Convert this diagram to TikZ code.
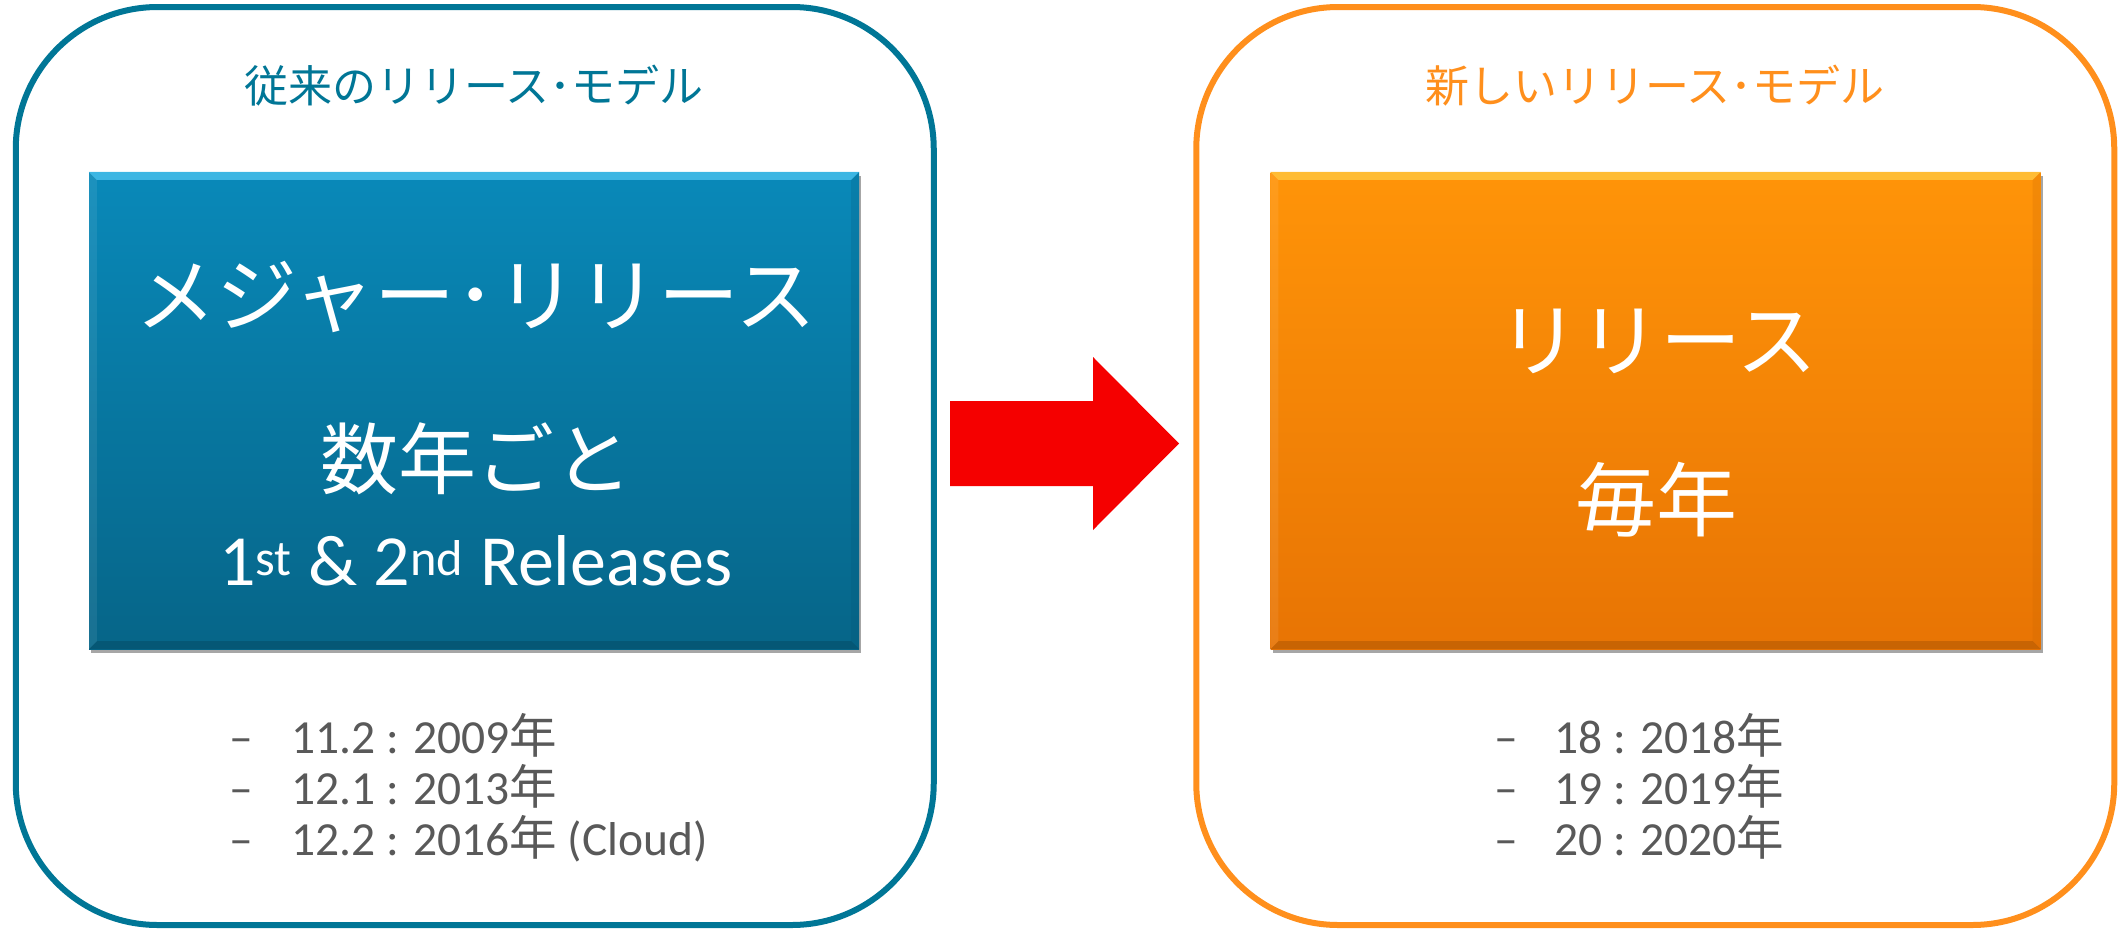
\documentclass[tikz,border=0pt]{standalone}
\usepackage{fontspec}
\setmainfont{Carlito}
\newfontfamily\jp{Noto Sans CJK JP}
\usetikzlibrary{shadows}

\definecolor{oldline}{RGB}{0,118,150}
\definecolor{oldtop}{RGB}{9,137,185}
\definecolor{oldbot}{RGB}{6,101,136}
\definecolor{oldhi}{RGB}{70,190,235}
\definecolor{newline}{RGB}{255,143,28}
\definecolor{newtop}{RGB}{255,148,8}
\definecolor{newbot}{RGB}{232,116,4}
\definecolor{newhi}{RGB}{255,196,60}
\definecolor{arrowred}{RGB}{245,0,0}
\definecolor{listgray}{RGB}{89,89,89}

\newcommand{\nen}{{\jp 年}}

\begin{document}
\begin{tikzpicture}[x=1pt,y=-1pt,
  panel/.style={draw, line width=6pt, rounded corners=142pt, fill=white,
    minimum width=918pt, minimum height=918pt, inner sep=0pt},
  release/.style={minimum width=770pt, minimum height=477pt, inner sep=0pt,
    drop shadow={shadow xshift=2pt, shadow yshift=-4pt, opacity=0.35, fill=black}},
  title/.style={font=\jp\fontsize{44}{44}\selectfont, inner sep=0pt},
  bigtext/.style={text=white, inner sep=0pt},
  listtext/.style={text=listgray, anchor=base west, inner sep=0pt,
    font=\fontsize{47.5}{47.5}\selectfont},
]
\useasboundingbox (0,0) rectangle (2119,929);

% --- two panels --------------------------------------------------------
\node[panel, draw=oldline] (oldpanel) at (474.75,466) {};
\node[panel, draw=newline] (newpanel) at (1655.25,466) {};

% --- panel titles ------------------------------------------------------
\node[title, text=oldline] (oldtitle) at (474,86) {従来のリリース･モデル};
\node[title, text=newline] (newtitle) at (1655,86) {新しいリリース･モデル};

% --- coloured release boxes --------------------------------------------
\node[release, top color=oldtop, bottom color=oldbot] (oldbox) at (474,410.5) {};
\node[release, top color=newtop, bottom color=newbot] (newbox) at (1655.5,410.5) {};

% bevel highlights along the box edges
\foreach \b/\hi/\lo in {oldbox/oldhi/oldbot, newbox/newhi/newbot}{
  \fill[\hi, opacity=0.85]
    (\b.north west) -- (\b.north east) -- ([xshift=-8pt,yshift=-8pt]\b.north east)
    -- ([xshift=8pt,yshift=-8pt]\b.north west) -- cycle;
  \fill[\lo!75!black, opacity=0.55]
    (\b.south west) -- (\b.south east) -- ([xshift=-8pt,yshift=8pt]\b.south east)
    -- ([xshift=8pt,yshift=8pt]\b.south west) -- cycle;
  \fill[\lo!85!black, opacity=0.2]
    (\b.north east) -- (\b.south east) -- ([xshift=-8pt,yshift=8pt]\b.south east)
    -- ([xshift=-8pt,yshift=-8pt]\b.north east) -- cycle;
  \fill[white, opacity=0.08]
    (\b.north west) -- (\b.south west) -- ([xshift=8pt,yshift=8pt]\b.south west)
    -- ([xshift=8pt,yshift=-8pt]\b.north west) -- cycle;
}

% --- text inside the release boxes -------------------------------------
\node[bigtext, font=\jp\fontsize{81}{81}\selectfont] (oldmain) at (476,297) {メジャー･リリース};
\node[bigtext, font=\jp\fontsize{78}{78}\selectfont] (oldfreq) at (476,459) {数年ごと};
\node[bigtext, anchor=base, font=\fontsize{72}{72}\selectfont] (oldrel) at (476,585)
  {1\textsuperscript{st} \& 2\textsuperscript{nd} Releases};

\node[bigtext, font=\jp\fontsize{81}{81}\selectfont] (newmain) at (1658,341) {リリース};
\node[bigtext, font=\jp\fontsize{81}{81}\selectfont] (newfreq) at (1656,500) {毎年};

% --- release lists -----------------------------------------------------
\node[listtext] (od1) at (229,753) {–};
\node[listtext] (od2) at (229,804) {–};
\node[listtext] (od3) at (229,855) {–};
\node[listtext] (ol1) at (291,753) {11.2 : 2009\nen};
\node[listtext] (ol2) at (291,804) {12.1 : 2013\nen};
\node[listtext] (ol3) at (291,855) {12.2 : 2016\nen{} (Cloud)};

\node[listtext] (nd1) at (1494,753) {–};
\node[listtext] (nd2) at (1494,804) {–};
\node[listtext] (nd3) at (1494,855) {–};
\node[listtext] (nl1) at (1554,753) {18 : 2018\nen};
\node[listtext] (nl2) at (1554,804) {19 : 2019\nen};
\node[listtext] (nl3) at (1554,855) {20 : 2020\nen};

% --- block arrow between the panels ------------------------------------
\coordinate (atail) at (950,443.5);
\coordinate (atip) at (1179,443.5);
\fill[arrowred] ([yshift=42.5pt]atail) -- (1093,401) -- (1093,357) -- (atip)
  -- (1093,530) -- (1093,486) -- ([yshift=-42.5pt]atail) -- cycle;
\end{tikzpicture}
\end{document}
